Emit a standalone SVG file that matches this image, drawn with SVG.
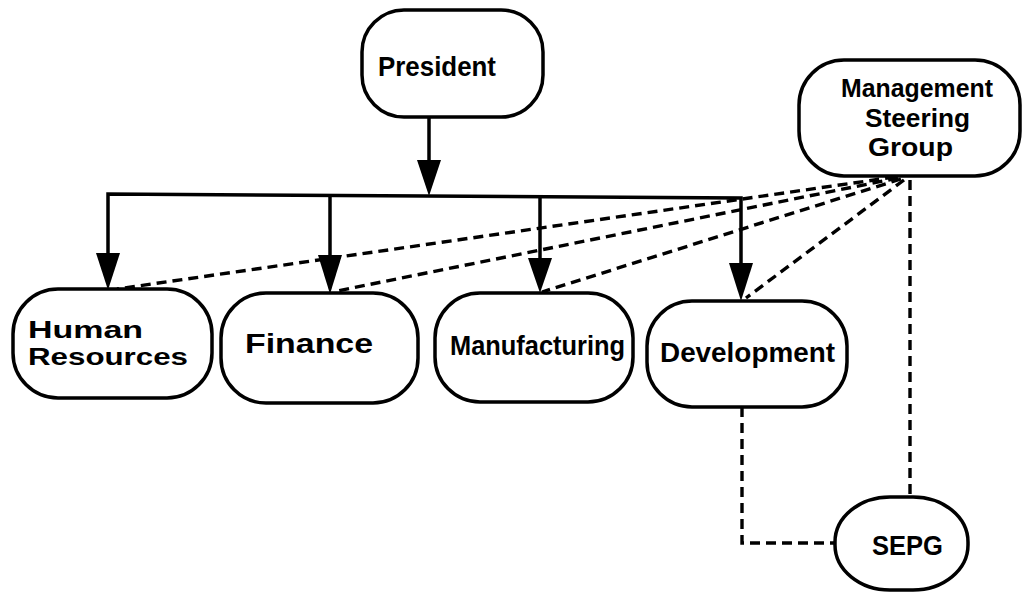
<svg xmlns="http://www.w3.org/2000/svg" width="1023" height="593" viewBox="0 0 1023 593">
  <style>
    .box { fill: #fff; stroke: #000; stroke-width: 3.5; }
    .lbl { font-family: "Liberation Sans", Arial, sans-serif; font-weight: bold; font-size: 28px; fill: #000; }
    .two { font-size: 24px; }
    .three { font-size: 26px; }
    .solid { fill: none; stroke: #000; stroke-width: 3.5; }
    .dash { fill: none; stroke: #000; stroke-width: 3.4; stroke-dasharray: 10 6; }
    .head { fill: #000; }
  </style>
  <rect width="1023" height="593" fill="#fff"/>

  <!-- reporting lines and dotted coordination lines -->
  <g id="connectors">
    <line class="solid" x1="429" y1="117" x2="429" y2="165"/>
    <polygon class="head" points="417,160 441,160 429,196"/>
    <polyline class="solid" points="108,258 108,194 741,198 741,266"/>
    <line class="solid" x1="330" y1="195" x2="330" y2="258"/>
    <line class="solid" x1="540" y1="196" x2="540" y2="260"/>
    <polygon class="head" points="96,253 120,253 108,290"/>
    <polygon class="head" points="318,255 342,255 330,294"/>
    <polygon class="head" points="528,258 552,258 540,293"/>
    <polygon class="head" points="729,263 753,263 741,301"/>

    <line class="dash" x1="895" y1="177" x2="117" y2="289"/>
    <line class="dash" x1="898" y1="178" x2="337" y2="291"/>
    <line class="dash" x1="901" y1="179" x2="542" y2="292"/>
    <line class="dash" x1="904" y1="180" x2="746" y2="298"/>
    <line class="dash" x1="910" y1="180" x2="910" y2="497"/>
    <polyline class="dash" points="742,407 742,543 835,543"/>
  </g>

  <g id="president">
    <rect class="box" x="362" y="10" width="181" height="107" rx="42" ry="42"/>
    <text class="lbl" x="378" y="76" textLength="118" lengthAdjust="spacingAndGlyphs">President</text>
  </g>

  <g id="steering-group">
    <rect class="box" x="799" y="60" width="221" height="116" rx="45" ry="45"/>
    <text class="lbl three" x="841" y="97" textLength="152" lengthAdjust="spacingAndGlyphs">Management</text>
    <text class="lbl three" x="865" y="127" textLength="105" lengthAdjust="spacingAndGlyphs">Steering</text>
    <text class="lbl three" x="868" y="156" textLength="85" lengthAdjust="spacingAndGlyphs">Group</text>
  </g>

  <g id="human-resources">
    <rect class="box" x="13" y="289" width="199" height="109" rx="45" ry="45"/>
    <text class="lbl two" x="28" y="338" textLength="115" lengthAdjust="spacingAndGlyphs">Human</text>
    <text class="lbl two" x="28" y="365" textLength="160" lengthAdjust="spacingAndGlyphs">Resources</text>
  </g>

  <g id="finance">
    <rect class="box" x="221" y="293" width="197" height="110" rx="45" ry="45"/>
    <text class="lbl" x="245" y="353" textLength="128" lengthAdjust="spacingAndGlyphs">Finance</text>
  </g>

  <g id="manufacturing">
    <rect class="box" x="435" y="293" width="198" height="109" rx="45" ry="45"/>
    <text class="lbl" x="450" y="355" textLength="175" lengthAdjust="spacingAndGlyphs">Manufacturing</text>
  </g>

  <g id="development">
    <rect class="box" x="647" y="301" width="200" height="106" rx="45" ry="45"/>
    <text class="lbl" x="660" y="362" textLength="175" lengthAdjust="spacingAndGlyphs">Development</text>
  </g>

  <g id="sepg">
    <rect class="box" x="835" y="497" width="133" height="93" rx="55" ry="45"/>
    <text class="lbl" x="872" y="555" textLength="71" lengthAdjust="spacingAndGlyphs">SEPG</text>
  </g>
</svg>
